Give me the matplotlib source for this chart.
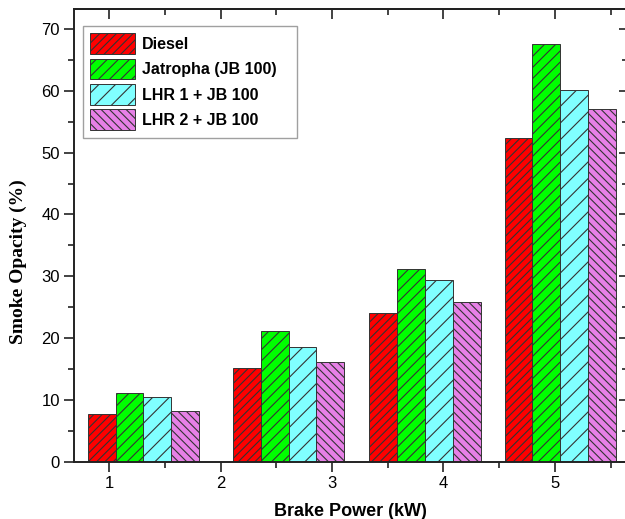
import numpy as np
import matplotlib
matplotlib.use("Agg")
from matplotlib import pyplot as plt
from matplotlib.ticker import MultipleLocator

# smoke opacity (%) for each fuel / engine configuration
group_pos = [1.309, 2.611, 3.835, 5.048]
diesel = [7.75, 15.2, 24.0, 52.4]
jatropha = [11.15, 21.2, 31.2, 67.5]
lhr1 = [10.5, 18.55, 29.4, 60.1]
lhr2 = [8.2, 16.2, 25.8, 57.05]

series_names = ["Diesel", "Jatropha (JB 100)", "LHR 1 + JB 100", "LHR 2 + JB 100"]
series_vals = [diesel, jatropha, lhr1, lhr2]
colors = ["#ff0000", "#00ff00", "#80ffff", "#e680e6"]
hatches = ["////", "///", "//", "\\\\\\\\"]

x_ticks = [1, 2, 3, 4, 5]

plt.rcParams["hatch.linewidth"] = 0.8
plt.rcParams["font.family"] = ["Liberation Sans", "DejaVu Sans"]

fig = plt.figure(figsize=(6.25, 5.19), dpi=100)
ax = fig.add_axes([74 / 625, 57 / 519, 552 / 625, 453 / 519])

width = 0.25
for i, (name, vals) in enumerate(zip(series_names, series_vals)):
    xs = np.array(group_pos) + (i - 1.5) * width
    ax.bar(xs, vals, width=width, color=colors[i], hatch=hatches[i],
           edgecolor="#333333", linewidth=0.7, label=name)

ax.set_xlim(0.686, 5.637)
ax.set_ylim(0, 73.2)

ax.set_xticks(x_ticks)
ax.xaxis.set_minor_locator(MultipleLocator(0.5))
ax.yaxis.set_major_locator(MultipleLocator(10))
ax.yaxis.set_minor_locator(MultipleLocator(5))

ax.tick_params(axis="both", which="major", direction="out", length=7,
               width=1.2, labelsize=12, color="#222222", pad=3)
ax.tick_params(axis="both", which="minor", direction="out", length=4,
               width=1.2, color="#222222")

for sp in ax.spines.values():
    sp.set_linewidth(1.4)
    sp.set_color("#222222")

# mirrored ticks on top and right point inward
top = ax.secondary_xaxis("top")
top.set_xticks(x_ticks)
top.xaxis.set_minor_locator(MultipleLocator(0.5))
top.tick_params(which="major", direction="in", length=7, width=1.2,
                labeltop=False, color="#222222")
top.tick_params(which="minor", direction="in", length=4, width=1.2,
                color="#222222")
top.spines["top"].set_linewidth(1.4)
top.spines["top"].set_color("#222222")

right = ax.secondary_yaxis("right")
right.yaxis.set_major_locator(MultipleLocator(10))
right.yaxis.set_minor_locator(MultipleLocator(5))
right.tick_params(which="major", direction="in", length=5, width=1.2,
                  labelright=False, color="#222222")
right.tick_params(which="minor", direction="in", length=3, width=1.2,
                  color="#222222")

ax.set_xlabel("Brake Power (kW)", fontsize=13, fontweight="bold", labelpad=9)
fig.text(0.03, 0.495, "Smoke Opacity (%)", rotation=90, ha="center",
         va="center", fontsize=14, fontweight="bold",
         family=["Liberation Serif", "DejaVu Serif"])

leg = ax.legend(loc="upper left", mode="expand",
                bbox_to_anchor=(83 / 625, 0.74, 214 / 625, 0.21),
                bbox_transform=fig.transFigure, borderaxespad=0,
                fancybox=False, edgecolor="#888888",
                prop={"size": 11.5, "weight": "bold"},
                handlelength=2.8, handleheight=1.64, handletextpad=0.45,
                labelspacing=0.28, borderpad=0.45)
leg.get_frame().set_linewidth(1.0)

fig.savefig("out.png", dpi=100)
